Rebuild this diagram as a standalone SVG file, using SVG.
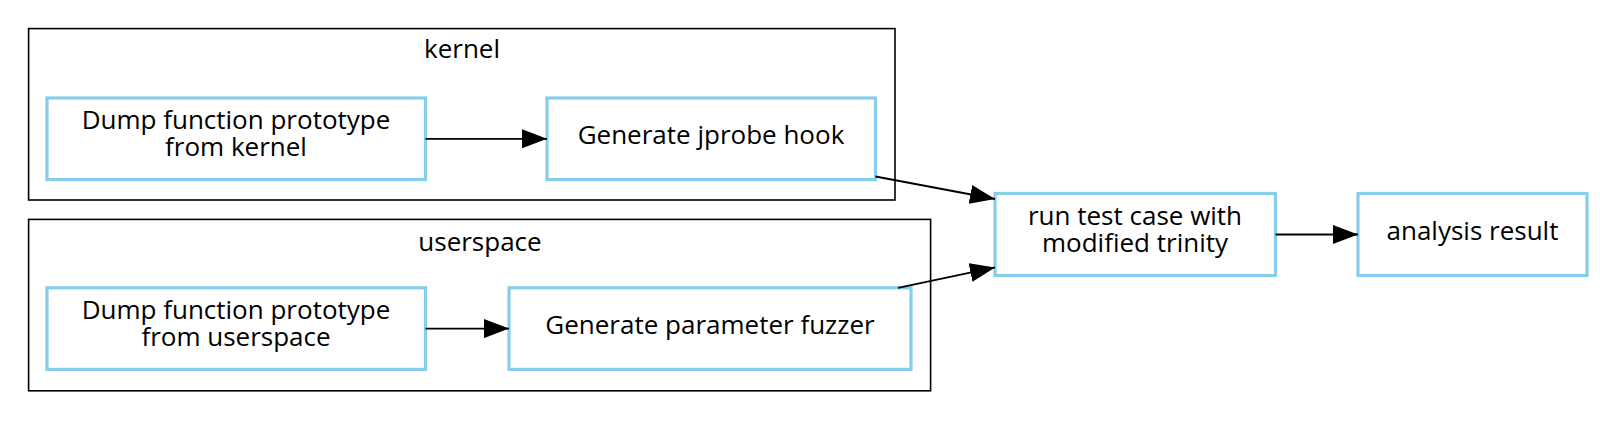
<svg xmlns="http://www.w3.org/2000/svg" width="1600" height="422" viewBox="0 0 1600 422">
<defs>
<style>
.cluster{fill:none;stroke:#000;stroke-width:1.6}
.node rect{fill:#fff;stroke:#87CEEB;stroke-width:3.2}
text{font-family:"Open Sans","Noto Sans",sans-serif;font-size:26px;fill:#000;text-anchor:middle;dominant-baseline:central}
.edge{stroke:#000;stroke-width:1.8;fill:none;marker-end:url(#ah)}
</style>
<marker id="ah" markerWidth="25" markerHeight="19" refX="25" refY="9.5" orient="auto" markerUnits="userSpaceOnUse">
<path d="M0,0 L25,9.5 L0,19 Z" fill="#000"/>
</marker>
</defs>
<rect width="1600" height="422" fill="#fff"/>
<g id="cluster_kernel">
<rect class="cluster" x="28.6" y="28.6" width="866.4" height="171.4"/>
<text x="462" y="48">kernel</text>
</g>
<g id="cluster_userspace">
<rect class="cluster" x="28.6" y="219.4" width="902" height="171.4"/>
<text x="480" y="240.5">userspace</text>
</g>
<g id="node_dump_kernel" class="node">
<rect x="47" y="98" width="378.5" height="81.6"/>
<text x="236" y="118.5">Dump function prototype<tspan x="236" dy="27.5">from kernel</tspan></text>
</g>
<g id="node_jprobe" class="node">
<rect x="547" y="98" width="328.5" height="81.6"/>
<text x="711" y="134">Generate jprobe hook</text>
</g>
<g id="node_dump_user" class="node">
<rect x="47" y="287.8" width="378.5" height="81.6"/>
<text x="236" y="308.5">Dump function prototype<tspan x="236" dy="27.5">from userspace</tspan></text>
</g>
<g id="node_fuzzer" class="node">
<rect x="509" y="287.8" width="402" height="81.6"/>
<text x="710" y="324">Generate parameter fuzzer</text>
</g>
<g id="node_run" class="node">
<rect x="995" y="193.5" width="280.5" height="82"/>
<text x="1135" y="214.5">run test case with<tspan x="1135" dy="27.5">modified trinity</tspan></text>
</g>
<g id="node_analysis" class="node">
<rect x="1358" y="193.5" width="229" height="82"/>
<text x="1472.5" y="230">analysis result</text>
</g>
<g id="edges">
<line class="edge" x1="425.5" y1="138.8" x2="547" y2="138.8"/>
<line class="edge" x1="425.5" y1="328.6" x2="509" y2="328.6"/>
<line class="edge" x1="875.5" y1="176.5" x2="995" y2="199"/>
<line class="edge" x1="898" y1="287.8" x2="995" y2="267.4"/>
<line class="edge" x1="1275.5" y1="234.5" x2="1358" y2="234.5"/>
</g>
</svg>
